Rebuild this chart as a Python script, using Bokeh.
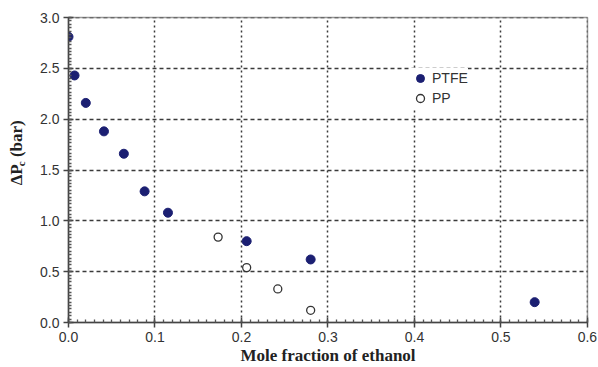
import math
from bokeh.plotting import figure
from bokeh.layouts import row
from bokeh.models import Range1d, SingleIntervalTicker, PrintfTickFormatter, Legend, LegendItem, Label
from bokeh.embed import file_html
from bokeh.resources import INLINE

# Data
ptfe_x = [0.0, 0.007, 0.020, 0.041, 0.064, 0.088, 0.115, 0.206, 0.280, 0.539]
ptfe_y = [2.81, 2.43, 2.16, 1.88, 1.66, 1.29, 1.08, 0.80, 0.62, 0.20]
pp_x = [0.173, 0.206, 0.242, 0.280]
pp_y = [0.84, 0.54, 0.33, 0.12]
series_names = ["PTFE", "PP"]
x_label = "Mole fraction of ethanol"
y_label_parts = ["ΔP", "c", "(bar)"]

W, H = 598, 367
LW = 30  # width of the strip holding the y-axis title

p = figure(width=W - LW, height=H, output_backend="svg", toolbar_location=None,
           x_range=Range1d(0, 0.6001), y_range=Range1d(0, 3.0001),
           min_border_left=68 - LW, min_border_right=11, min_border_top=17, min_border_bottom=44)
p.background_fill_color = "white"
p.border_fill_color = "white"
p.outline_line_color = "#9a9a9a"
p.outline_line_width = 1.5

p.xaxis.ticker = SingleIntervalTicker(interval=0.1, num_minor_ticks=10)
p.yaxis.ticker = SingleIntervalTicker(interval=0.5, num_minor_ticks=15)
p.xaxis.formatter = PrintfTickFormatter(format="%.1f")
p.yaxis.formatter = PrintfTickFormatter(format="%.1f")

for ax in (p.xaxis, p.yaxis):
    ax.axis_line_color = "#444444"
    ax.axis_line_width = 1.5
    ax.major_tick_line_color = "#444444"
    ax.major_tick_line_width = 1.5
    ax.minor_tick_line_color = "#555555"
    ax.minor_tick_line_width = 1.3
    ax.major_tick_in = 5
    ax.major_tick_out = 5
    ax.minor_tick_in = 3
    ax.minor_tick_out = 0
    ax.major_label_text_font = "Liberation Sans"
    ax.major_label_text_font_size = "14px"
    ax.major_label_text_color = "#333333"
    ax.major_label_standoff = 4

p.xaxis.axis_label = x_label
p.xaxis.axis_label_text_font = "Liberation Serif"
p.xaxis.axis_label_text_font_style = "bold"
p.xaxis.axis_label_text_font_size = "17px"
p.xaxis.axis_label_text_color = "#222222"
p.xaxis.axis_label_standoff = 1

p.xgrid.grid_line_color = "#3a3a3a"
p.xgrid.grid_line_width = 1.5
p.xgrid.grid_line_dash = "2 3"
p.ygrid.grid_line_color = "#3a3a3a"
p.ygrid.grid_line_width = 1.5
p.ygrid.grid_line_dash = "4 3"

r1 = p.scatter(ptfe_x, ptfe_y, size=9, marker="circle", fill_color="#1b1f72", line_color="#1b1f72")
r2 = p.scatter(pp_x, pp_y, size=8, marker="circle", fill_color="white", line_color="#333333", line_width=1.3)

legend = Legend(items=[LegendItem(label=series_names[0], renderers=[r1]),
                       LegendItem(label=series_names[1], renderers=[r2])],
                location=(342, 214))
legend.border_line_color = None
legend.background_fill_color = "white"
legend.background_fill_alpha = 1.0
legend.padding = 0
legend.margin = 0
legend.spacing = 0
legend.glyph_width = 20
legend.glyph_height = 20
legend.label_height = 20
legend.label_standoff = 2
legend.label_text_font = "Liberation Sans"
legend.label_text_font_size = "14px"
legend.label_text_color = "#333333"
p.add_layout(legend, "center")

# Narrow strip on the left for the y-axis title with its subscript
t = figure(width=LW, height=H, output_backend="svg", toolbar_location=None,
           x_range=Range1d(0, LW), y_range=Range1d(0, H),
           min_border_left=0, min_border_right=0, min_border_top=0, min_border_bottom=0)
t.axis.visible = False
t.grid.visible = False
t.outline_line_color = None
t.background_fill_color = "white"
t.border_fill_color = "white"

lab_font = "Liberation Serif"
xs = 16
t.add_layout(Label(x=xs, y=165, text=y_label_parts[0],
                   angle=math.pi / 2, text_font=lab_font, text_font_style="bold", text_font_size="17px",
                   text_align="left", text_baseline="middle", text_color="#222222"))
t.add_layout(Label(x=xs + 4, y=188, text=y_label_parts[1],
                   angle=math.pi / 2, text_font=lab_font, text_font_style="bold", text_font_size="11px",
                   text_align="left", text_baseline="middle", text_color="#222222"))
t.add_layout(Label(x=xs, y=199, text=y_label_parts[2],
                   angle=math.pi / 2, text_font=lab_font, text_font_style="bold", text_font_size="17px",
                   text_align="left", text_baseline="middle", text_color="#222222"))

layout = row(t, p, spacing=0)
open("out.html", "w").write(file_html(layout, INLINE))
